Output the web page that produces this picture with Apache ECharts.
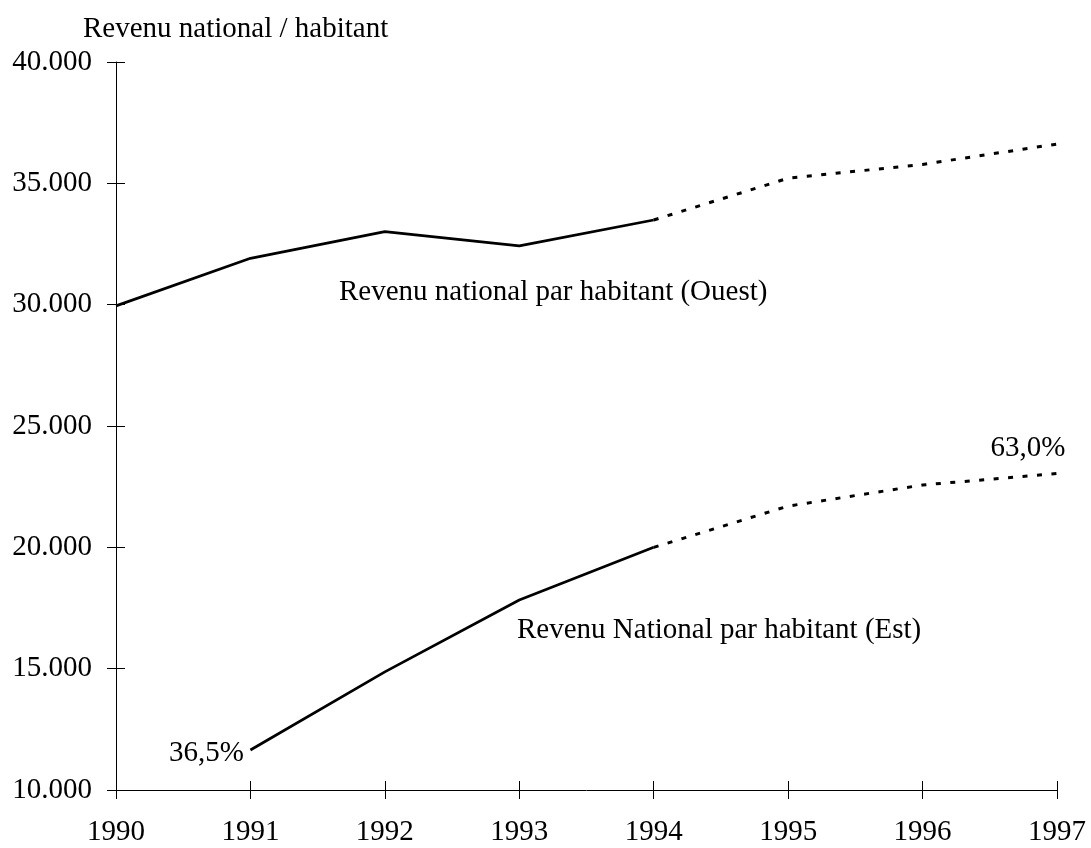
<!DOCTYPE html>
<html><head><meta charset="utf-8">
<script src="https://cdn.jsdelivr.net/npm/echarts@6/dist/echarts.min.js"></script>
<style>html,body{margin:0;padding:0;background:#fff}#c{width:1091px;height:848px}</style>
</head><body><div id="c"></div>
<script>
const years = ['1990','1991','1992','1993','1994','1995','1996','1997'];
const ouest = [29950, 31910, 33010, 32420, 33490, 35210, 35780, 36620];
const est = [null, 11650, 14870, 17830, 20000, 21700, 22570, 23040];
const forecastFrom = 4; // index of 1994: dashed afterwards
const yTicks = [10000, 15000, 20000, 25000, 30000, 35000, 40000];
const titleText = 'Revenu national / habitant';
const ouestLabel = 'Revenu national par habitant (Ouest)';
const estLabel = 'Revenu National par habitant (Est)';
const estStartLabel = '36,5%';
const estEndLabel = '63,0%';

const FONT = 'Liberation Serif';
const FS = 29;
const solidPart = arr => arr.map((v,i)=> i<=forecastFrom ? v : null);
const dashPart = arr => arr.map((v,i)=> i>=forecastFrom ? v : null);
const fmt = v => (v/1000).toFixed(3);

const chart = echarts.init(document.getElementById('c'));
const tickStyle = {color:'#000', width:1};
const lineBase = (data, dashed) => ({
  type:'line', data, symbol:'none', connectNulls:false, animation:false,
  lineStyle:{color:'#000', width: dashed?3:2.7, type: dashed?[5,9.5]:'solid'}
});
const txt = (text, x, y, align) => ({type:'text', x, y,
  style:{text, font:`${FS}px "${FONT}"`, fill:'#000', align, verticalAlign:'middle'}});

chart.setOption({
  backgroundColor:'#fff',
  animation:false,
  title:{text:titleText, left:78, top:10, textStyle:{fontFamily:FONT, fontSize:FS, fontWeight:'normal', color:'#000'}},
  grid:{left:116, right:34, top:62, bottom:58, containLabel:false},
  xAxis:[
    {type:'category', data:years, boundaryGap:false,
     axisLine:{lineStyle:{color:'#000', width:1}},
     axisTick:{show:true, length:9, lineStyle:tickStyle},
     axisLabel:{fontFamily:FONT, fontSize:FS, color:'#000', margin:28},
     splitLine:{show:false}},
    {type:'category', data:years, boundaryGap:false, position:'bottom',
     axisLine:{show:false},
     axisTick:{show:true, inside:true, length:9, lineStyle:tickStyle},
     axisLabel:{show:false}, splitLine:{show:false}}
  ],
  yAxis:[
    {type:'value', min:yTicks[0], max:yTicks[yTicks.length-1], interval:5000,
     axisLine:{show:true, lineStyle:{color:'#000', width:1}},
     axisTick:{show:true, length:9, lineStyle:tickStyle},
     axisLabel:{fontFamily:FONT, fontSize:FS, color:'#000', margin:24, formatter:fmt},
     splitLine:{show:false}},
    {type:'value', min:yTicks[0], max:yTicks[yTicks.length-1], interval:5000, position:'left',
     axisLine:{show:false},
     axisTick:{show:true, inside:true, length:9, lineStyle:tickStyle},
     axisLabel:{show:false}, splitLine:{show:false}}
  ],
  series:[
    lineBase(solidPart(ouest), false),
    lineBase(dashPart(ouest), true),
    lineBase(solidPart(est), false),
    lineBase(dashPart(est), true)
  ],
  graphic:[
    txt(ouestLabel, 339, 292, 'left'),
    txt(estLabel, 517, 630, 'left'),
    txt(estStartLabel, 244, 753, 'right'),
    txt(estEndLabel, 1028, 448, 'center')
  ]
});
</script></body></html>
